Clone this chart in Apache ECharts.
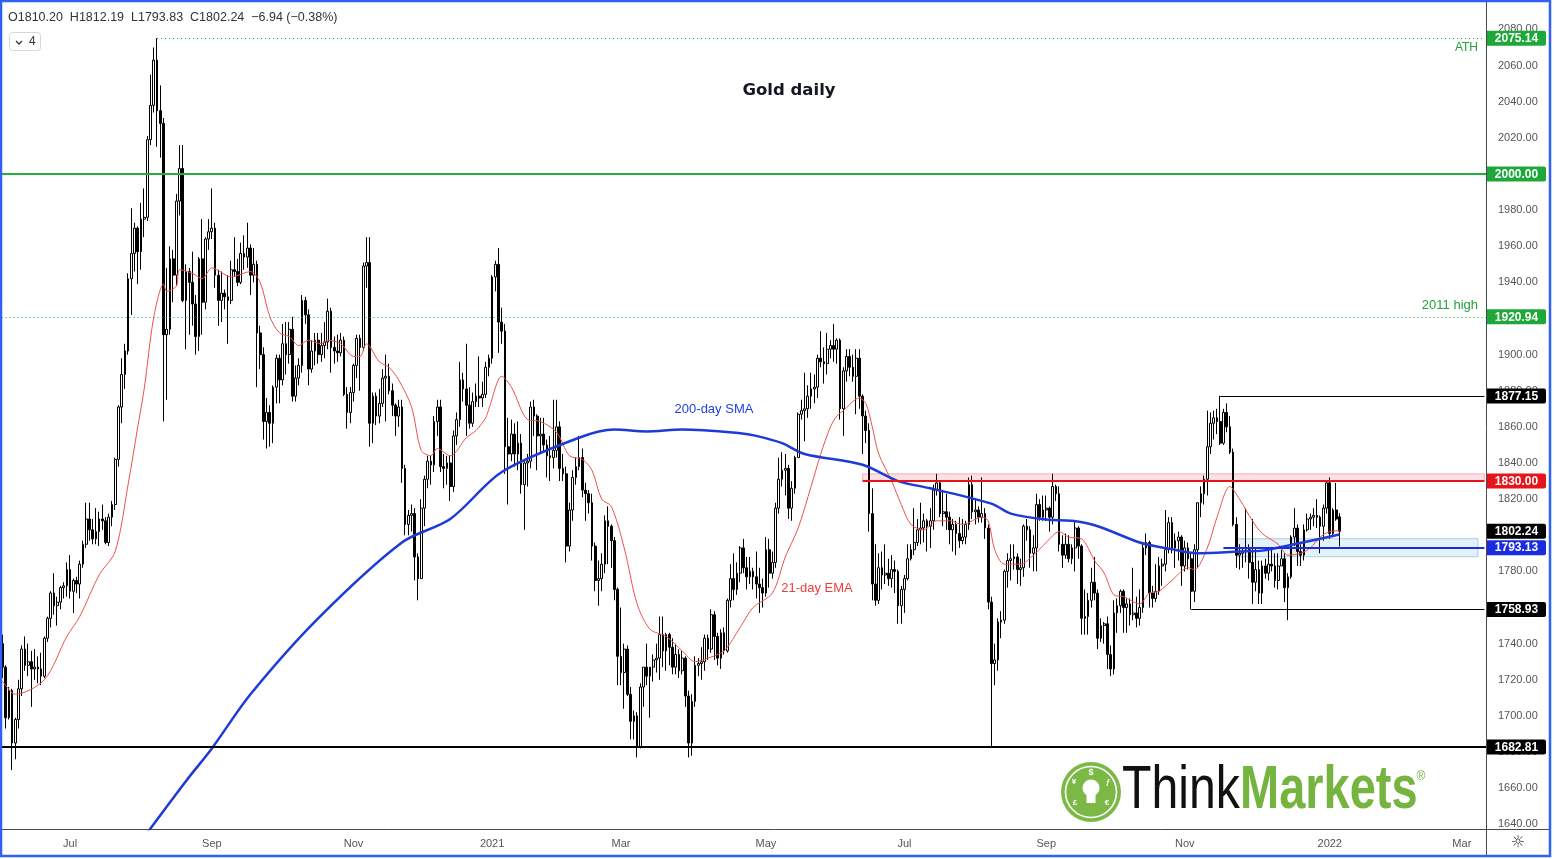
<!DOCTYPE html>
<html><head><meta charset="utf-8">
<script src="https://cdn.jsdelivr.net/npm/echarts@6/dist/echarts.min.js"></script>
<style>html,body{margin:0;padding:0;background:#fff;}#c{width:1554px;height:859px;}</style>
</head><body><div id="c"></div>
<script>
// ---- Daily OHLC rows [open, high, low, close] ----
const jun20=[[1726,1745,1720,1740],[1740,1745,1721,1727],[1727,1728,1693,1699],[1699,1716,1698,1714],[1714,1715,1670,1685],[1685,1699,1676,1698],[1698,1720,1693,1715],[1715,1739,1711,1737],[1737,1744,1725,1728],[1728,1740,1722,1730],[1730,1736,1705,1726],[1726,1737,1720,1727],[1727,1733,1718,1726],[1726,1735,1717,1722],[1722,1744,1721,1743],[1743,1755,1741,1754],[1754,1769,1749,1768],[1768,1779,1756,1761],[1761,1766,1750,1763],[1763,1772,1759,1771],[1771,1774,1765,1772],[1772,1785,1766,1781]];
const jul20=[[1781,1789,1765,1769],[1769,1776,1757,1775],[1775,1777,1768,1773],[1773,1786,1765,1784],[1784,1797,1782,1795],[1795,1818,1793,1809],[1809,1818,1797,1803],[1803,1809,1795,1798],[1798,1815,1795,1802],[1802,1813,1794,1809],[1809,1817,1803,1808],[1808,1810,1795,1796],[1796,1812,1794,1810],[1810,1819,1805,1817],[1817,1843,1814,1842],[1842,1872,1838,1871],[1871,1898,1862,1889],[1889,1906,1881,1902],[1902,1945,1900,1942],[1942,1981,1922,1956],[1956,1973,1946,1970],[1970,1971,1939,1957],[1957,1984,1947,1975]];
const aug20=[[1975,1992,1965,1976],[1976,2021,1974,2019],[2019,2055,2016,2038],[2038,2070,2034,2063],[2063,2075.14,2015,2035],[2035,2049,2009,2028],[2028,2031,1863,1911],[1911,1948,1875,1914],[1914,1960,1911,1953],[1953,1958,1929,1944],[1944,1989,1938,1985],[1985,2016,1977,2003],[2003,2016,1929,1930],[1930,1950,1903,1946],[1946,1948,1911,1940],[1940,1957,1916,1928],[1928,1933,1900,1910],[1910,1954,1902,1953],[1953,1975,1911,1929],[1929,1965,1925,1964],[1964,1975,1958,1968]];
const sep20=[[1968,1992,1964,1970],[1970,1973,1937,1944],[1944,1947,1916,1930],[1930,1946,1918,1934],[1934,1936,1925,1932],[1932,1944,1906,1930],[1930,1952,1928,1947],[1947,1965,1943,1946],[1946,1953,1938,1940],[1940,1962,1939,1956],[1956,1966,1947,1954],[1954,1973,1948,1959],[1959,1961,1933,1944],[1944,1959,1940,1950],[1950,1952,1882,1912],[1912,1916,1892,1900],[1900,1904,1853,1863],[1863,1876,1848,1868],[1868,1872,1849,1862],[1862,1883,1851,1882],[1882,1900,1873,1898],[1898,1900,1873,1886]];
const oct20=[[1886,1917,1883,1906],[1906,1918,1889,1900],[1900,1918,1895,1914],[1914,1921,1874,1877],[1877,1894,1874,1887],[1887,1898,1883,1894],[1894,1933,1890,1930],[1930,1932,1917,1922],[1922,1925,1883,1892],[1892,1908,1890,1902],[1902,1912,1894,1908],[1908,1912,1895,1900],[1900,1912,1896,1905],[1905,1918,1898,1907],[1907,1931,1903,1924],[1924,1926,1890,1904],[1904,1910,1895,1902],[1902,1911,1896,1901],[1901,1912,1899,1908],[1908,1910,1877,1878],[1878,1882,1859,1868],[1868,1882,1862,1879]];
const nov20=[[1879,1895,1874,1894],[1894,1911,1887,1909],[1909,1911,1880,1904],[1904,1951,1902,1949],[1949,1965,1937,1951],[1951,1965,1849,1862],[1862,1879,1851,1877],[1877,1879,1861,1866],[1866,1881,1862,1873],[1873,1892,1871,1887],[1887,1900,1863,1888],[1888,1895,1878,1880],[1880,1884,1866,1872],[1872,1873,1855,1866],[1866,1875,1860,1871],[1871,1875,1829,1837],[1837,1839,1800,1806],[1806,1814,1800,1811],[1811,1817,1802,1812],[1812,1815,1775,1788],[1788,1790,1764,1776]];
const dec20=[[1776,1820,1776,1815],[1815,1833,1805,1831],[1831,1844,1826,1841],[1841,1844,1828,1839],[1839,1866,1835,1863],[1863,1875,1855,1871],[1871,1875,1835,1838],[1838,1845,1826,1837],[1837,1844,1828,1840],[1840,1844,1819,1827],[1827,1858,1824,1855],[1855,1868,1850,1864],[1864,1896,1860,1886],[1886,1890,1874,1881],[1881,1906,1855,1872],[1872,1882,1859,1862],[1862,1879,1860,1874],[1874,1884,1871,1877],[1877,1899,1871,1876],[1876,1885,1871,1878],[1878,1896,1876,1893],[1893,1900,1888,1898]];
const jan21=[[1898,1944,1895,1943],[1943,1952,1935,1950],[1950,1959,1901,1918],[1918,1926,1906,1913],[1913,1917,1834,1849],[1849,1865,1817,1845],[1845,1864,1841,1856],[1856,1862,1838,1845],[1845,1863,1836,1851],[1851,1856,1823,1828],[1828,1841,1803,1840],[1840,1845,1827,1841],[1841,1874,1837,1871],[1871,1875,1855,1866],[1866,1867,1836,1855],[1855,1865,1846,1856],[1856,1865,1846,1850],[1850,1853,1832,1844],[1844,1855,1830,1843],[1843,1875,1837,1847]];
const feb21=[[1847,1875,1843,1860],[1860,1863,1830,1837],[1837,1845,1830,1834],[1834,1838,1785,1794],[1794,1818,1791,1814],[1814,1836,1808,1832],[1832,1843,1828,1838],[1838,1855,1836,1843],[1843,1848,1821,1825],[1825,1829,1808,1823],[1823,1825,1812,1818],[1818,1823,1786,1794],[1794,1796,1769,1775],[1775,1786,1761,1776],[1776,1790,1769,1784],[1784,1811,1779,1808],[1808,1816,1784,1805],[1805,1806,1782,1797],[1797,1799,1764,1770],[1770,1771,1717,1733]];
const mar21=[[1733,1760,1717,1724],[1724,1740,1704,1737],[1737,1739,1711,1712],[1712,1716,1687,1697],[1697,1703,1687,1700],[1700,1702,1677,1683],[1683,1718,1682,1716],[1716,1727,1705,1727],[1727,1740,1717,1722],[1722,1726,1699,1727],[1727,1734,1719,1731],[1731,1740,1724,1732],[1732,1755,1720,1745],[1745,1755,1727,1736],[1736,1746,1725,1745],[1745,1746,1728,1738],[1738,1743,1723,1727],[1727,1740,1723,1734],[1734,1737,1721,1725],[1725,1736,1723,1732],[1732,1733,1705,1711],[1711,1714,1677,1685],[1685,1712,1678,1708]];
const apr21=[[1708,1733,1705,1728],[1728,1732,1722,1729],[1729,1738,1720,1730],[1730,1745,1725,1743],[1743,1745,1731,1737],[1737,1759,1735,1756],[1756,1758,1731,1744],[1744,1746,1728,1732],[1732,1748,1726,1746],[1746,1749,1734,1736],[1736,1765,1735,1764],[1764,1784,1760,1776],[1776,1790,1764,1770],[1770,1785,1767,1779],[1779,1794,1774,1793],[1793,1798,1779,1782],[1782,1788,1770,1777],[1777,1788,1773,1780],[1780,1782,1770,1777],[1777,1791,1765,1773],[1773,1782,1757,1771],[1771,1776,1760,1768]];
const may21=[[1768,1799,1766,1792],[1792,1798,1771,1779],[1779,1791,1776,1785],[1785,1818,1782,1815],[1815,1843,1812,1831],[1831,1846,1827,1836],[1836,1845,1822,1837],[1837,1839,1809,1815],[1815,1830,1808,1826],[1826,1844,1823,1843],[1843,1868,1843,1867],[1867,1875,1864,1869],[1869,1890,1852,1870],[1870,1883,1865,1877],[1877,1890,1870,1881],[1881,1889,1873,1882],[1882,1900,1876,1898],[1898,1913,1893,1896],[1896,1904,1884,1895],[1895,1912,1889,1903],[1903,1908,1898,1905]];
const jun21=[[1905,1917,1896,1903],[1903,1909,1895,1908],[1908,1909,1864,1870],[1870,1893,1855,1891],[1891,1903,1885,1899],[1899,1903,1888,1893],[1893,1900,1885,1888],[1888,1903,1867,1898],[1898,1903,1870,1877],[1877,1878,1845,1866],[1866,1869,1851,1858],[1858,1862,1802,1812],[1812,1826,1764,1773],[1773,1795,1761,1764],[1764,1790,1762,1782],[1782,1791,1770,1778],[1778,1795,1773,1779],[1779,1787,1772,1776],[1776,1789,1771,1781],[1781,1786,1768,1780],[1780,1781,1751,1761],[1761,1772,1751,1770]];
const jul21=[[1770,1778,1757,1776],[1776,1795,1775,1787],[1787,1795,1786,1792],[1792,1815,1789,1796],[1796,1809,1794,1803],[1803,1818,1795,1804],[1804,1812,1796,1808],[1808,1809,1791,1805],[1805,1815,1793,1808],[1808,1828,1803,1825],[1825,1834,1822,1829],[1829,1830,1810,1812],[1812,1825,1805,1813],[1813,1823,1803,1810],[1810,1813,1795,1803],[1803,1809,1791,1806],[1806,1808,1789,1801],[1801,1810,1793,1797],[1797,1809,1795,1799],[1799,1808,1795,1806],[1806,1832,1803,1828],[1828,1833,1809,1813]];
const aug21=[[1813,1820,1806,1814],[1814,1816,1807,1810],[1810,1832,1807,1812],[1812,1815,1798,1804],[1804,1806,1759,1763],[1763,1766,1682.81,1729],[1729,1740,1717,1731],[1731,1754,1725,1752],[1752,1758,1743,1753],[1753,1781,1751,1780],[1780,1790,1771,1786],[1786,1795,1775,1787],[1787,1795,1781,1788],[1788,1790,1773,1781],[1781,1787,1772,1782],[1782,1806,1777,1805],[1805,1809,1797,1803],[1803,1805,1782,1790],[1790,1800,1780,1793],[1793,1823,1780,1817],[1817,1820,1808,1810],[1810,1822,1808,1814]];
const sep21=[[1814,1822,1808,1815],[1815,1816,1802,1810],[1810,1834,1806,1827],[1827,1828,1819,1823],[1823,1827,1791,1795],[1795,1800,1782,1789],[1789,1801,1787,1795],[1795,1800,1785,1787],[1787,1795,1784,1793],[1793,1808,1780,1804],[1804,1805,1787,1794],[1794,1795,1745,1754],[1754,1770,1745,1755],[1755,1768,1745,1764],[1764,1782,1760,1774],[1774,1788,1764,1768],[1768,1770,1737,1743],[1743,1754,1741,1750],[1750,1752,1740,1751],[1751,1755,1726,1734],[1734,1739,1722,1726],[1726,1764,1723,1757]];
const oct21=[[1757,1765,1746,1761],[1761,1770,1757,1769],[1769,1770,1746,1760],[1760,1765,1746,1762],[1762,1765,1750,1756],[1756,1782,1753,1757],[1757,1766,1749,1754],[1754,1770,1750,1760],[1760,1796,1757,1793],[1793,1801,1789,1796],[1796,1797,1760,1768],[1768,1772,1760,1765],[1765,1784,1763,1769],[1769,1788,1767,1783],[1783,1787,1772,1784],[1784,1814,1780,1792],[1792,1810,1790,1807],[1807,1810,1790,1793],[1793,1801,1782,1797],[1797,1802,1786,1799],[1799,1800,1772,1783]];
const nov21=[[1783,1797,1780,1793],[1793,1796,1781,1787],[1787,1790,1758.93,1769],[1769,1795,1763,1792],[1792,1818,1782,1818],[1818,1827,1810,1823],[1823,1833,1817,1831],[1831,1869,1822,1849],[1849,1868,1845,1862],[1862,1869,1853,1865],[1865,1870,1856,1863],[1863,1877.15,1850,1851],[1851,1870,1850,1868],[1868,1873,1857,1860],[1860,1866,1845,1846],[1846,1848,1805,1806],[1806,1810,1782,1789],[1789,1795,1781,1790],[1790,1793,1782,1791],[1791,1815,1785,1792],[1792,1795,1776,1785],[1785,1809,1762,1774]];
const dec21=[[1774,1793,1769,1781],[1781,1786,1762,1768],[1768,1786,1762,1783],[1783,1787,1776,1779],[1779,1793,1775,1784],[1784,1793,1780,1783],[1783,1790,1771,1775],[1775,1790,1770,1783],[1783,1792,1783,1787],[1787,1790,1763,1771],[1771,1779,1753,1777],[1777,1800,1776,1799],[1799,1815,1794,1804],[1804,1806,1783,1791],[1791,1795,1783,1789],[1789,1806,1786,1803],[1803,1812,1802,1809],[1809,1812,1803,1810],[1810,1815,1805,1811],[1811,1820,1804,1810],[1810,1811,1790,1805],[1805,1817,1797,1815],[1815,1830,1812,1829]];
const jan22=[[1829,1832,1798,1801],[1801,1815,1799,1814],[1814,1829,1808,1809],[1810.20,1812.19,1793.83,1802.24]];

// 21-day EMA and 200-day SMA: [bar index, price]
const ema21=[[0,1720],[1,1719],[5,1712],[14,1720],[21,1744],[25,1755],[31,1778],[36,1791],[40,1828],[43,1860],[45,1881],[48,1921],[51,1939],[52,1935],[55,1938],[56,1947],[60,1945],[63,1942],[66,1948],[72,1943],[78,1946],[81,1940],[84,1921],[87,1912],[90,1910],[93,1905],[96,1908],[100,1906],[102,1908],[106,1906],[110,1899],[112,1899],[114,1906],[118,1896],[121,1893],[124,1886],[128,1871],[131,1847],[134,1844],[136,1848],[140,1844],[145,1854],[148,1858],[151,1865],[152,1870],[156,1888],[159,1882],[164,1864],[168,1863],[173,1857],[177,1844],[181,1842],[184,1836],[187,1820],[190,1816],[194,1793],[198,1762],[202,1748],[207,1744],[212,1736],[216,1730],[220,1732],[225,1736],[230,1749],[234,1760],[240,1768],[244,1788],[248,1804],[252,1827],[255,1845],[258,1860],[260,1866],[262,1869],[267,1876],[269,1873],[271,1860],[273,1845],[277,1830],[280,1817],[283,1806],[287,1803],[291,1808],[295,1808],[299,1806],[305,1810],[307,1808],[309,1792],[312,1784],[317,1784],[321,1789],[325,1796],[329,1802],[332,1799],[336,1798],[340,1786],[343,1779],[346,1767],[349,1766],[354,1762],[357,1768],[360,1769],[364,1775],[369,1782],[371,1781],[375,1793],[378,1810],[382,1827],[385,1820],[389,1808],[392,1801],[397,1795],[400,1789],[404,1790],[407,1793],[410,1799],[413,1802],[416,1802.5]];
const sma200=[[45,1633],[58,1664],[66,1682],[78,1712],[99,1754],[125,1796],[140,1809],[156,1835],[180,1854],[191,1858.5],[201,1857.5],[212,1858.5],[230,1856.5],[235,1855],[243,1851],[250,1845],[268,1839],[279,1830],[289,1826],[308,1817.5],[314,1812],[325,1808.7],[333,1808],[341,1805],[354,1796],[363,1792.6],[372,1790],[385,1791],[392,1791.5],[403,1795.4],[416,1800.4]];

// Levels
const athLevel=2075.14, roundLevel=2000, high2011=1920.94, rangeHigh=1877.15, resistance=1830, resistanceTop=1834;
const smaLevel=1793.13, boxTop=1798.1, boxBottom=1788.1, rangeLow=1758.93, supportLevel=1682.81, lastPrice=1802.24;
const yTicks=[1640,1660,1680,1700,1720,1740,1760,1780,1800,1820,1840,1860,1880,1900,1920,1940,1960,1980,2000,2020,2040,2060,2080];
const monthNames=['Jan','Feb','Mar','Apr','May','Jun','Jul','Aug','Sep','Oct','Nov','Dec'];
const holidays=['2020-12-25','2021-01-01'];
const categoryCount=462;

// Trading-day categories
const dates=[]; {let d=new Date(Date.UTC(2020,5,1));
 while(dates.length<categoryCount){const wd=d.getUTCDay();const s=d.toISOString().slice(0,10);
  if(wd!==0&&wd!==6&&holidays.indexOf(s)<0)dates.push(s); d.setUTCDate(d.getUTCDate()+1);}}

const ohlc=[].concat(jun20,jul20,aug20,sep20,oct20,nov20,dec20,jan21,feb21,mar21,apr21,may21,jun21,jul21,aug21,sep21,oct21,nov21,dec21,jan22);
const candleData=ohlc.map(r=>[r[0],r[3],r[2],r[1]]);
const lastIdx=categoryCount-1;

const chart=echarts.init(document.getElementById('c'),null,{renderer:'canvas'});
const FONT='"Liberation Sans", Arial, sans-serif';
chart.setOption({
 animation:false,
 backgroundColor:'#ffffff',
 grid:{left:-2.4,right:68,top:2,bottom:30,containLabel:false,outerBoundsMode:'none'},
 xAxis:{type:'category',data:dates,boundaryGap:true,
  axisLine:{show:false},axisTick:{show:false},splitLine:{show:false},
  axisLabel:{color:'#555',fontSize:11,fontFamily:FONT,margin:9,
   interval:(i,v)=>{if(i===0)return false;const m=v.slice(5,7);return m!==dates[i-1].slice(5,7)&&(+m)%2===1;},
   formatter:(v)=>{const m=+v.slice(5,7);return m===1?v.slice(0,4):monthNames[m-1];}}},
 yAxis:{type:'value',position:'right',min:1637.4,max:2095.19,scale:true,
  axisLine:{show:false},axisTick:{show:false},splitLine:{show:false},
  axisLabel:{customValues:yTicks,color:'#555',fontSize:11,fontFamily:FONT,margin:12,formatter:v=>v.toFixed(2)}},
 series:[
  {type:'candlestick',data:candleData,barWidth:2.2,z:2,silent:true,
   itemStyle:{color:'#ffffff',color0:'#000000',borderColor:'#000000',borderColor0:'#000000',borderColorDoji:'#000000',borderWidth:1},
   markArea:{silent:true,data:[
    [{coord:[268,resistanceTop],itemStyle:{color:'rgba(242,120,130,0.22)',borderColor:'rgba(230,120,130,0.5)',borderWidth:1}},{coord:[lastIdx,resistance]}],
    [{coord:[384,boxTop],itemStyle:{color:'rgba(160,210,240,0.3)',borderColor:'rgba(120,180,215,0.6)',borderWidth:1}},{coord:[459,boxBottom]}]
   ]},
   markLine:{silent:true,symbol:['none','none'],label:{show:false},data:[
    [{coord:[49,athLevel],lineStyle:{color:'#22a33c',width:1,type:[1,3]}},{coord:[lastIdx,athLevel]}],
    {yAxis:roundLevel,lineStyle:{color:'#22b03c',width:2,type:'solid'}},
    {yAxis:high2011,lineStyle:{color:'#22a33c',width:1,type:[1,3]}},
    [{coord:[379,rangeHigh],lineStyle:{color:'#000',width:1,type:'solid'}},{coord:[lastIdx,rangeHigh]}],
    [{coord:[268,resistance],lineStyle:{color:'#e8141b',width:2,type:'solid'}},{coord:[lastIdx,resistance]}],
    [{coord:[380,smaLevel],lineStyle:{color:'#1a2be0',width:2,type:'solid'}},{coord:[lastIdx,smaLevel]}],
    [{coord:[370,rangeLow],lineStyle:{color:'#000',width:1,type:'solid'}},{coord:[lastIdx,rangeLow]}],
    {yAxis:supportLevel,lineStyle:{color:'#000',width:2,type:'solid'}}
   ]}},
  {type:'line',data:ema21,symbol:'none',smooth:0.3,z:3,silent:true,lineStyle:{color:'#f0504a',width:1}},
  {type:'line',data:sma200,symbol:'none',smooth:0.3,z:4,silent:true,lineStyle:{color:'#1e3bd6',width:2.5}}
 ]
});

// Graphics: texts, price tags, frame, logo
const tags=[[athLevel,'#1fa83a'],[roundLevel,'#1fa83a'],[high2011,'#1fa83a'],[rangeHigh,'#000'],[resistance,'#e8141b'],[lastPrice,'#000'],[smaLevel,'#1a2be0'],[rangeLow,'#000'],[supportLevel,'#000']];
const els=[];
tags.forEach(t=>{const py=chart.convertToPixel({yAxisIndex:0},t[0]);
 els.push({type:'rect',shape:{x:1487,y:py-7.5,width:59,height:15,r:[0,2,2,0]},style:{fill:t[1]},z:50});
 els.push({type:'text',x:1516.5,y:py+0.5,style:{text:t[0].toFixed(2),fill:'#fff',font:'bold 12px '+FONT,textAlign:'center',textVerticalAlign:'middle'},z:51});});
const pyAth=chart.convertToPixel({yAxisIndex:0},athLevel), py2011=chart.convertToPixel({yAxisIndex:0},high2011);
els.push(
 {type:'text',x:1478,y:pyAth+9,style:{text:'ATH',fill:'#22a33c',font:'12px '+FONT,textAlign:'right',textVerticalAlign:'middle'},z:40},
 {type:'text',x:1478,y:py2011-11,style:{text:'2011 high',fill:'#22a33c',font:'13px '+FONT,textAlign:'right',textVerticalAlign:'middle'},z:40},
 {type:'text',x:789,y:91,style:{text:'Gold daily',fill:'#131722',font:'bold 16.5px "DejaVu Sans", sans-serif',textAlign:'center',textVerticalAlign:'middle'},z:40},
 {type:'text',x:714,y:409,style:{text:'200-day SMA',fill:'#1f3fe0',font:'13px '+FONT,textAlign:'center',textVerticalAlign:'middle'},z:40},
 {type:'text',x:817,y:588,style:{text:'21-day EMA',fill:'#f23c3c',font:'13px '+FONT,textAlign:'center',textVerticalAlign:'middle'},z:40},
 // header
 {type:'text',x:8,y:18,style:{text:'O1810.20  H1812.19  L1793.83  C1802.24  \u22126.94 (\u22120.38%)',fill:'#333',font:'12.5px '+FONT,textVerticalAlign:'middle'},z:40},
 {type:'rect',shape:{x:9.5,y:32.5,width:31,height:18,r:3},style:{fill:'#fff',stroke:'#d6d8de',lineWidth:1},z:40},
 {type:'polyline',shape:{points:[[16,41],[19,44],[22,41]]},style:{stroke:'#333',lineWidth:1.3,fill:'none'},z:41},
 {type:'text',x:29,y:42,style:{text:'4',fill:'#333',font:'12px '+FONT,textVerticalAlign:'middle'},z:41},
 // separators
 {type:'line',shape:{x1:1486.5,y1:0,x2:1486.5,y2:857},style:{stroke:'#4a4a4a',lineWidth:1},z:60},
 {type:'line',shape:{x1:0,y1:829.5,x2:1549,y2:829.5},style:{stroke:'#4a4a4a',lineWidth:1},z:60},
 {type:'text',x:1518,y:843,style:{text:'\u263C',fill:'#333',font:'16px "DejaVu Sans"',textAlign:'center',textVerticalAlign:'middle'},z:60},
 // logo
 {type:'circle',shape:{cx:1091,cy:792,r:30},style:{fill:'#7cb846'},z:30},
 {type:'circle',shape:{cx:1091,cy:792,r:25.5},style:{fill:'none',stroke:'#fff',lineWidth:1.6},z:31},
 {type:'circle',shape:{cx:1091,cy:788,r:8.5},style:{fill:'#fff'},z:31},
 {type:'rect',shape:{x:1086.5,y:794,width:9,height:9},style:{fill:'#fff'},z:31},
 {type:'rect',shape:{x:1086,y:803.5,width:10,height:1.5},style:{fill:'#7cb846'},z:32},
 {type:'text',x:1091,y:773,style:{text:'$',fill:'#fff',font:'bold 9px '+FONT,textAlign:'center',textVerticalAlign:'middle'},z:32},
 {type:'text',x:1074,y:782,style:{text:'\u00A5',fill:'#fff',font:'bold 8px '+FONT,textAlign:'center',textVerticalAlign:'middle'},z:32},
 {type:'text',x:1108,y:782,style:{text:'\u0192',fill:'#fff',font:'bold 8px '+FONT,textAlign:'center',textVerticalAlign:'middle'},z:32},
 {type:'text',x:1075,y:803,style:{text:'\u00A3',fill:'#fff',font:'bold 8px '+FONT,textAlign:'center',textVerticalAlign:'middle'},z:32},
 {type:'text',x:1107,y:803,style:{text:'\u20AC',fill:'#fff',font:'bold 8px '+FONT,textAlign:'center',textVerticalAlign:'middle'},z:32},
 {type:'text',x:1122,y:791,scaleX:0.79,style:{text:'Think',fill:'#111',font:'61px '+FONT,textVerticalAlign:'middle'},z:30},
 {type:'text',x:1240,y:791,scaleX:0.77,style:{text:'Markets',fill:'#74b43f',font:'bold 61px '+FONT,textVerticalAlign:'middle'},z:30},
 {type:'text',x:1421,y:777,style:{text:'\u00AE',fill:'#74b43f',font:'12px '+FONT,textAlign:'center',textVerticalAlign:'middle'},z:30},
 // frame
 {type:'rect',shape:{x:1,y:1,width:1549,height:855},style:{fill:'none',stroke:'#2f62f2',lineWidth:2.5},z:100}
);
chart.setOption({graphic:{elements:els}});
</script></body></html>
